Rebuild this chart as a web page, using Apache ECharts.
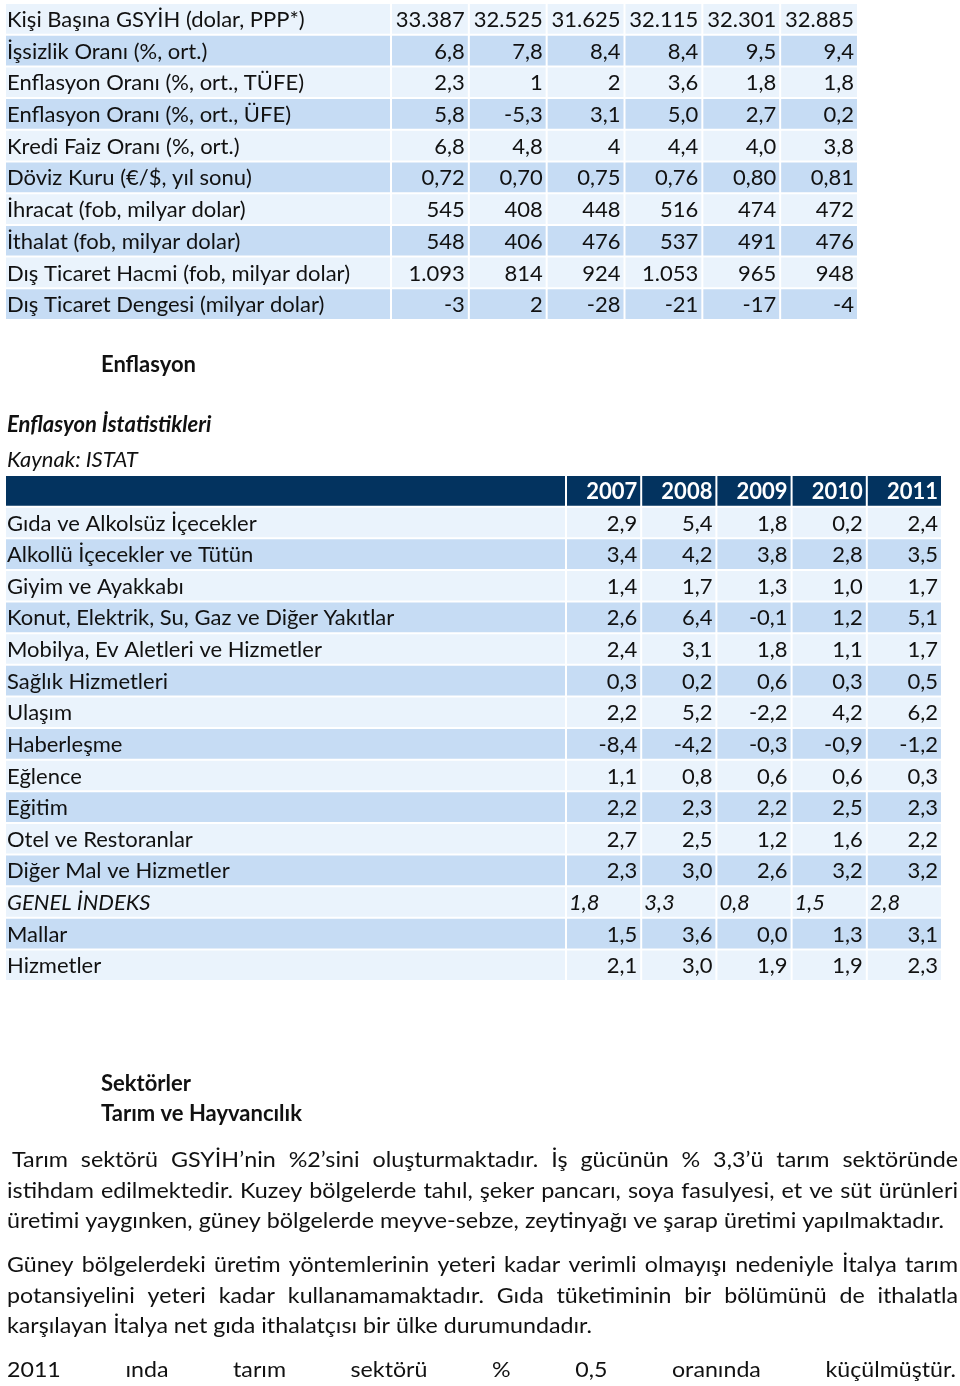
<!DOCTYPE html>
<html><head><meta charset="utf-8">
<script src="https://cdn.jsdelivr.net/npm/echarts@6/dist/echarts.min.js"></script>
<style>html,body{margin:0;padding:0;background:#fff}#c{width:960px;height:1386px}</style>
</head><body><div id="c"></div>
<script>
// ---------- DATA ----------
const t1Labels = [
  'Kişi Başına GSYİH (dolar, PPP*)',
  'İşsizlik Oranı (%, ort.)',
  'Enflasyon Oranı (%, ort., TÜFE)',
  'Enflasyon Oranı (%, ort., ÜFE)',
  'Kredi Faiz Oranı (%, ort.)',
  'Döviz Kuru (€/$, yıl sonu)',
  'İhracat (fob, milyar dolar)',
  'İthalat (fob, milyar dolar)',
  'Dış Ticaret Hacmi (fob, milyar dolar)',
  'Dış Ticaret Dengesi (milyar dolar)'
];
const t1Cols = ['k1','k2','k3','k4','k5','k6'];
const t1Values = [
  ['33.387','32.525','31.625','32.115','32.301','32.885'],
  ['6,8','7,8','8,4','8,4','9,5','9,4'],
  ['2,3','1','2','3,6','1,8','1,8'],
  ['5,8','-5,3','3,1','5,0','2,7','0,2'],
  ['6,8','4,8','4','4,4','4,0','3,8'],
  ['0,72','0,70','0,75','0,76','0,80','0,81'],
  ['545','408','448','516','474','472'],
  ['548','406','476','537','491','476'],
  ['1.093','814','924','1.053','965','948'],
  ['-3','2','-28','-21','-17','-4']
];

const t2Years = ['2007','2008','2009','2010','2011'];
const t2Labels = [
  'Gıda ve Alkolsüz İçecekler',
  'Alkollü İçecekler ve Tütün',
  'Giyim ve Ayakkabı',
  'Konut, Elektrik, Su, Gaz ve Diğer Yakıtlar',
  'Mobilya, Ev Aletleri ve Hizmetler',
  'Sağlık Hizmetleri',
  'Ulaşım',
  'Haberleşme',
  'Eğlence',
  'Eğitim',
  'Otel ve Restoranlar',
  'Diğer Mal ve Hizmetler',
  'GENEL İNDEKS',
  'Mallar',
  'Hizmetler'
];
const t2Values = [
  ['2,9','5,4','1,8','0,2','2,4'],
  ['3,4','4,2','3,8','2,8','3,5'],
  ['1,4','1,7','1,3','1,0','1,7'],
  ['2,6','6,4','-0,1','1,2','5,1'],
  ['2,4','3,1','1,8','1,1','1,7'],
  ['0,3','0,2','0,6','0,3','0,5'],
  ['2,2','5,2','-2,2','4,2','6,2'],
  ['-8,4','-4,2','-0,3','-0,9','-1,2'],
  ['1,1','0,8','0,6','0,6','0,3'],
  ['2,2','2,3','2,2','2,5','2,3'],
  ['2,7','2,5','1,2','1,6','2,2'],
  ['2,3','3,0','2,6','3,2','3,2'],
  ['1,8','3,3','0,8','1,5','2,8'],
  ['1,5','3,6','0,0','1,3','3,1'],
  ['2,1','3,0','1,9','1,9','2,3']
];
const t2ItalicRows = ['GENEL İNDEKS'];

const headings = [
  {text:'Enflasyon', x:101, y:365, style:'bold'},
  {text:'Enflasyon İstatistikleri', x:7, y:425, style:'italic bold'},
  {text:'Kaynak: ISTAT', x:7, y:460, style:'italic'},
  {text:'Sektörler', x:101, y:1084, style:'bold'},
  {text:'Tarım ve Hayvancılık', x:101, y:1114, style:'bold'}
];
const para1 = [
  'Tarım sektörü GSYİH’nin %2’sini oluşturmaktadır. İş gücünün % 3,3’ü tarım sektöründe',
  'istihdam edilmektedir. Kuzey bölgelerde tahıl, şeker pancarı, soya fasulyesi, et ve süt ürünleri',
  'üretimi yaygınken, güney bölgelerde meyve-sebze, zeytinyağı ve şarap üretimi yapılmaktadır.'
];
const para2 = [
  'Güney bölgelerdeki üretim yöntemlerinin yeteri kadar verimli olmayışı nedeniyle İtalya tarım',
  'potansiyelini yeteri kadar kullanamamaktadır. Gıda tüketiminin bir bölümünü de ithalatla',
  'karşılayan İtalya net gıda ithalatçısı bir ülke durumundadır.'
];
const para3 = ['2011 ında tarım sektörü % 0,5 oranında küçülmüştür.'];

// ---------- STYLE ----------
const FONT = 'Lato, "Open Sans", sans-serif';
const FS = 22;
const LIGHT = '#eaf3fc', DARK = '#c6dcf4', NAVY = '#03335f', INK = '#111';

// ---------- TABLE RENDERING ----------
const seriesTexts = [];
const seriesKinds = [];
function cellRenderer(alignRight){
  return function(params, api){
    const c = api.coord([api.value(0), api.value(1)]);
    const s = api.size([1, 1]);
    const text = seriesTexts[params.seriesIndex][params.dataIndex];
    const kind = seriesKinds[params.seriesIndex][params.dataIndex];
    const left = c[0] - s[0]/2, top = c[1] - s[1]/2;
    const fill = kind.header ? NAVY : (kind.dark ? DARK : LIGHT);
    const font = (kind.header ? 'bold ' : (kind.italic ? 'italic ' : '')) + FS + 'px ' + FONT;
    let ax, al;
    if (kind.label) { ax = left + 2; al = 'left'; }
    else if (!alignRight || kind.italic) { ax = left + 3; al = 'left'; }
    else { ax = left + s[0] - 4; al = 'right'; }
    return {type:'group', children:[
      {type:'rect', shape:{x:left+1, y:top+1, width:s[0]-2, height:s[1]-2}, style:{fill:fill}},
      {type:'text', style:{text:text, x:ax, y:c[1]+1, align:al, verticalAlign:'middle', font:font, fill: kind.header ? '#fff' : INK}}
    ]};
  };
}

// table 1 labels
const s0 = [], s0t = [], s0k = [];
t1Labels.forEach((l,i)=>{ s0.push([0,i]); s0t.push(l); s0k.push({label:true, dark:i%2===1}); });
// table 1 values
const s1 = [], s1t = [], s1k = [];
t1Values.forEach((row,i)=>row.forEach((v,j)=>{ s1.push([j,i]); s1t.push(v); s1k.push({dark:i%2===1}); }));
// table 2 labels (with header row)
const t2Rows = ['hdr'].concat(t2Labels);
const s2 = [[0,0]], s2t = [''], s2k = [{label:true, header:true}];
t2Labels.forEach((l,i)=>{ s2.push([0,i+1]); s2t.push(l); s2k.push({label:true, dark:i%2===1, italic:t2ItalicRows.includes(l)}); });
// table 2 values
const s3 = [], s3t = [], s3k = [];
t2Years.forEach((y,j)=>{ s3.push([j,0]); s3t.push(y); s3k.push({header:true}); });
t2Values.forEach((row,i)=>row.forEach((v,j)=>{ s3.push([j,i+1]); s3t.push(v); s3k.push({dark:i%2===1, italic:t2ItalicRows.includes(t2Labels[i])}); }));
seriesTexts.push(s0t, s1t, s2t, s3t);
seriesKinds.push(s0k, s1k, s2k, s3k);

// ---------- TEXT (graphic) ----------
const ctx = document.createElement('canvas').getContext('2d');
function measure(text, font){ ctx.font = font; return ctx.measureText(text).width; }
const bodyFont = FS + 'px ' + FONT;
const graphics = [];
headings.forEach(h=>{
  graphics.push({type:'text', x:h.x, y:h.y, style:{text:h.text, font:h.style + ' ' + FS + 'px ' + FONT, fill:INK, verticalAlign:'middle'}});
});
function addParagraph(lines, opts){
  lines.forEach((line, li)=>{
    const y = opts.y0 + li*opts.lh;
    const x0 = opts.xl + (li===0 ? (opts.firstIndent||0) : 0);
    const justify = li < lines.length-1 || opts.justifyLast;
    const sc = opts.scale;
    if (!justify) {
      graphics.push({type:'text', x:x0, y:y, scaleX:sc, style:{text:line, font:bodyFont, fill:INK, verticalAlign:'middle'}});
      return;
    }
    const words = line.split(' ');
    const ws = words.map(w=>measure(w, bodyFont)*sc);
    const total = ws.reduce((a,b)=>a+b,0);
    const gap = (opts.xr - x0 - total)/(words.length-1);
    let x = x0;
    words.forEach((w,k)=>{
      graphics.push({type:'text', x:x, y:y, scaleX:sc, style:{text:w, font:bodyFont, fill:INK, verticalAlign:'middle'}});
      x += ws[k] + gap;
    });
  });
}
const sc1 = 937 / measure(para1[2], bodyFont);
const sc2 = 585 / measure(para2[2], bodyFont);
addParagraph(para1, {y0:1160, lh:30.5, xl:7, xr:958, scale:sc1, firstIndent:5});
addParagraph(para2, {y0:1265, lh:30.5, xl:7, xr:958, scale:sc2});
addParagraph(para3, {y0:1370, lh:30.5, xl:7, xr:956, scale:sc2, justifyLast:true});

// ---------- CHART ----------
const chart = echarts.init(document.getElementById('c'), null, {renderer:'canvas', width:960, height:1386});
const hidden = {show:false};
const ax = (type, gi, data, inv) => ({type:type, gridIndex:gi, data:data, inverse:!!inv, axisLine:hidden, axisTick:hidden, axisLabel:hidden, splitLine:hidden});
chart.setOption({
  backgroundColor:'#fff',
  animation:false,
  grid:[
    {left:5, top:3, width:386, height:317, containLabel:false},
    {left:391, top:3, width:467, height:317, containLabel:false},
    {left:5, top:475, width:561, height:506, containLabel:false},
    {left:566, top:475, width:376, height:506, containLabel:false}
  ],
  xAxis:[
    ax('category', 0, ['label']),
    ax('category', 1, t1Cols),
    ax('category', 2, ['label']),
    ax('category', 3, t2Years)
  ],
  yAxis:[
    ax('category', 0, t1Labels, true),
    ax('category', 1, t1Labels, true),
    ax('category', 2, t2Rows, true),
    ax('category', 3, t2Rows, true)
  ],
  series:[
    {type:'custom', xAxisIndex:0, yAxisIndex:0, data:s0, renderItem:cellRenderer(false)},
    {type:'custom', xAxisIndex:1, yAxisIndex:1, data:s1, renderItem:cellRenderer(true)},
    {type:'custom', xAxisIndex:2, yAxisIndex:2, data:s2, renderItem:cellRenderer(false)},
    {type:'custom', xAxisIndex:3, yAxisIndex:3, data:s3, renderItem:cellRenderer(true)}
  ],
  graphic: graphics
});
</script>
</body></html>
